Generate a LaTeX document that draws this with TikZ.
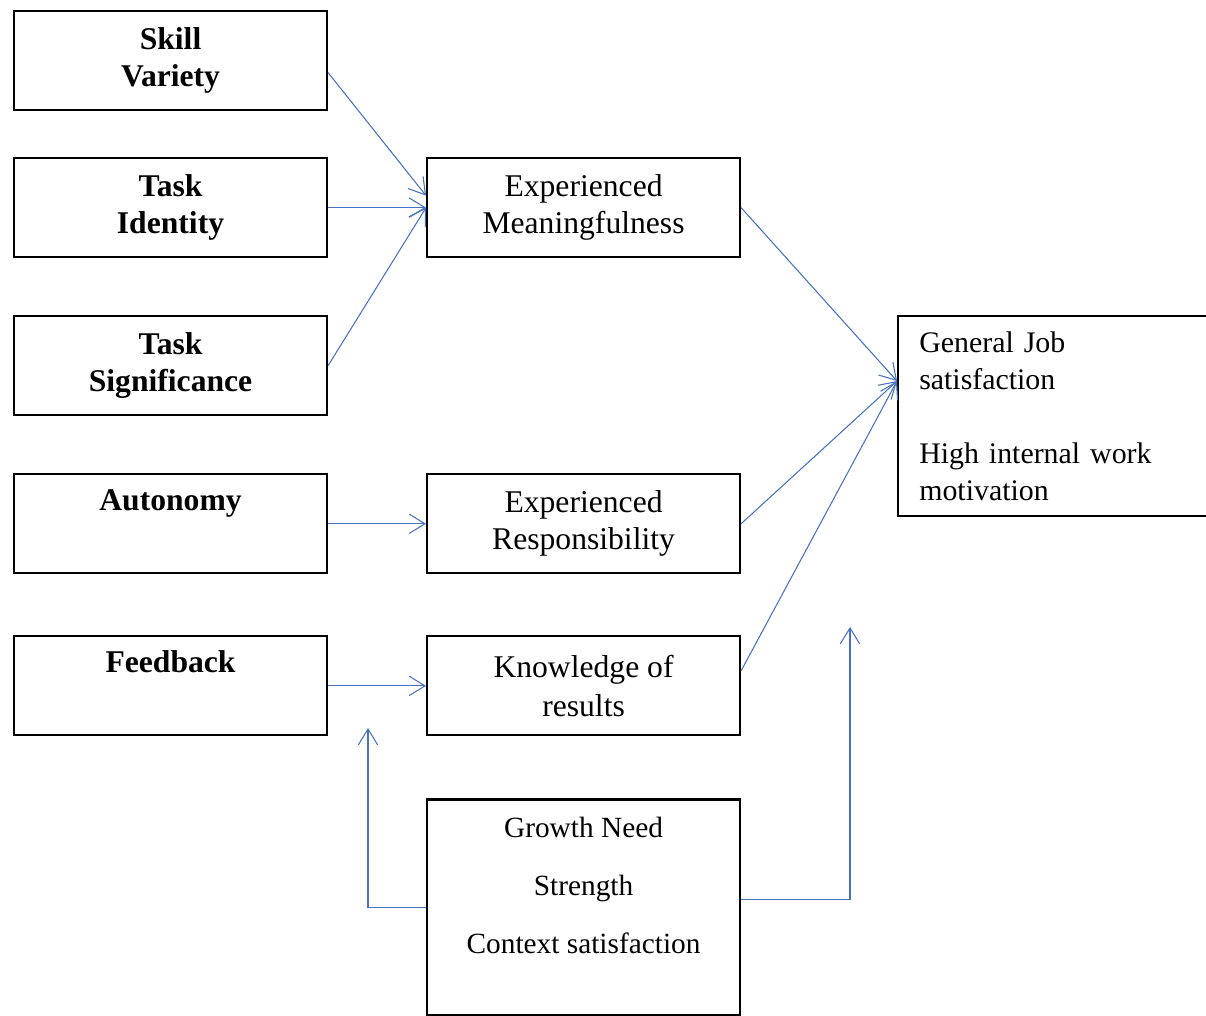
\documentclass[tikz,border=0pt]{standalone}
\usepackage{fontspec}
\setmainfont{Liberation Serif}
\usepackage{xcolor}
\usetikzlibrary{arrows.meta,positioning}
\definecolor{linkblue}{RGB}{68,114,196}

\begin{document}
\begin{tikzpicture}[
    x=0.02cm, y=-0.02cm,
    box/.style={rectangle, draw=black, line width=1.2pt, minimum width=6.26cm, minimum height=1.98cm, inner sep=2pt, align=center, font=\fontsize{18}{21}\selectfont},
    factor/.style={box, font=\fontsize{18}{21}\selectfont\bfseries},
    arr/.style={-{Straight Barb[length=9pt,width=11pt]}, line width=0.6pt, color=linkblue},
    node distance=1cm and 1.96cm
]
    \useasboundingbox (0,0) rectangle (1206,1015);

    % Core job dimensions
    \node[factor, anchor=north west] (sv) at (13,10) {Skill\\Variety};
    \node[factor, below=0.92cm of sv] (ti) {Task\\Identity};
    \node[factor, below=1.14cm of ti] (ts) {Task\\Significance};
    \node[factor, below=1.14cm of ts] (au) {Autonomy\\\strut};
    \node[factor, below=1.22cm of au] (fb) {Feedback\\\strut};

    % Psychological states
    \node[box, right=of ti] (em) {Experienced\\Meaningfulness};
    \node[box, right=of au] (er) {Experienced\\Responsibility};
    \node[box, right=of fb, font=\fontsize{18}{22}\selectfont] (kr) {Knowledge of\\results};

    % Outcomes
    \node[box, anchor=north west, minimum width=6.4cm, minimum height=4cm, text width=5.55cm, align=left, inner xsep=0.42cm, font=\fontsize{17}{21}\selectfont] (gj) at (897,315)
        {General Job\\satisfaction\\\strut\\High internal work\\motivation};

    % Moderators
    \node[box, below=1.24cm of kr, minimum height=4.32cm, font=\fontsize{16.7}{21}\selectfont] (gn)
        {Growth Need\\[12pt]Strength\\[12pt]Context satisfaction\\[-2pt]\strut};

    \coordinate (gjin) at ([yshift=0.7cm]gj.west);
    \coordinate (fbin) at (368,728);
    \coordinate (gjlow) at (850,627);

    % Arrows
    \draw[arr] ([yshift=-0.24cm]sv.east) -- ([yshift=0.24cm]em.west);
    \draw[arr] (ti.east) -- (ti.east -| em.west);
    \draw[arr] (ts.east) -- (em.west);
    \draw[arr] (au.east) -- (au.east -| er.west);
    \draw[arr] (fb.east) -- (fb.east -| kr.west);
    \draw[arr] (em.east) -- (gjin);
    \draw[arr] (er.east) -- (gjin);
    \draw[arr] ([yshift=0.3cm]kr.east) -- (gjin);
    \draw[arr] (gn.west) -| (fbin);
    \draw[arr] ([yshift=0.16cm]gn.east) -| (gjlow);

\end{tikzpicture}
\end{document}
